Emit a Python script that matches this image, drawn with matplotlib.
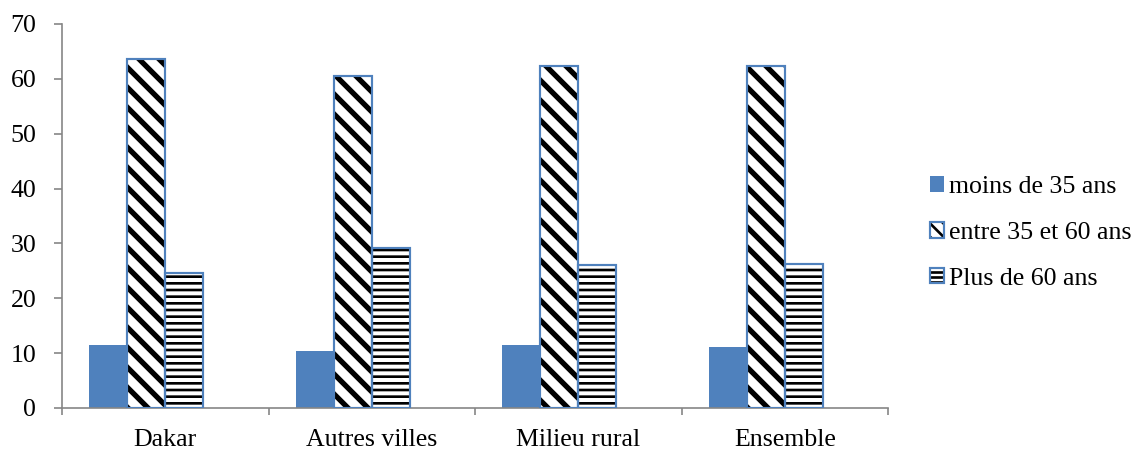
import matplotlib
matplotlib.use("Agg")
import matplotlib.pyplot as plt
import numpy as np
from matplotlib.patches import Patch
from matplotlib.legend_handler import HandlerTuple

categories = ["Dakar", "Autres villes", "Milieu rural", "Ensemble"]
series_names = ["moins de 35 ans", "entre 35 et 60 ans", "Plus de 60 ans"]
moins_35 = [11.5, 10.3, 11.5, 11.2]
entre_35_60 = [63.6, 60.6, 62.4, 62.4]
plus_60 = [24.7, 29.2, 26.1, 26.3]

BLUE = "#4F81BD"
AXIS = "#868686"
FS = 15.5

plt.rcParams["font.family"] = ["Liberation Serif", "DejaVu Serif"]

DPI = 120
fig = plt.figure(figsize=(1139 / DPI, 450 / DPI), dpi=DPI)
ax = fig.add_axes([62 / 1139, 1 - 408 / 450, (888 - 62) / 1139, (408 - 24) / 450])

x = np.arange(len(categories))
w = 0.184

# solid bars
ax.bar(x - 1.5 * w, moins_35, w, color=BLUE, edgecolor="none", zorder=2)

# hatched bars: hatch drawn in black, then a blue outline on top
plt.rcParams["hatch.linewidth"] = 3.2
ax.bar(x - 0.5 * w, entre_35_60, w, facecolor="white", edgecolor="black",
       linewidth=0, hatch="\\\\", zorder=2)
h2a = Patch(facecolor="white", edgecolor="black", linewidth=0, hatch="\\\\\\")
plt.rcParams["hatch.linewidth"] = 1.6
ax.bar(x + 0.5 * w, plus_60, w, facecolor="white", edgecolor="black",
       linewidth=0, hatch="---", zorder=2)
h3a = Patch(facecolor="white", edgecolor="black", linewidth=0, hatch="----")
for off, vals in [(-0.5 * w, entre_35_60), (0.5 * w, plus_60)]:
    ax.bar(x + off, vals, w, facecolor="none", edgecolor=BLUE, linewidth=1.3, zorder=3)

ax.set_ylim(0, 70)
ax.set_yticks(np.arange(0, 71, 10))
ax.set_xlim(-0.5, len(categories) - 0.5)
ax.set_xticks(np.arange(-0.5, len(categories)), labels=[""] * (len(categories) + 1))
ax.set_xticks(x, labels=categories, minor=True)

for s in ["top", "right"]:
    ax.spines[s].set_visible(False)
for s in ["left", "bottom"]:
    ax.spines[s].set_color(AXIS)
    ax.spines[s].set_linewidth(1.0)

ax.tick_params(axis="y", direction="out", length=5, width=1.0, color=AXIS,
               labelsize=FS, pad=10.5, labelcolor="black")
ax.tick_params(axis="x", which="major", direction="out", length=4, width=1.0, color=AXIS)
ax.tick_params(axis="x", which="minor", length=0, labelsize=FS, pad=12.5)

# legend proxies
h1 = Patch(facecolor=BLUE, edgecolor="none")
h2 = (h2a, Patch(facecolor="none", edgecolor=BLUE, linewidth=1.3))
h3 = (h3a, Patch(facecolor="none", edgecolor=BLUE, linewidth=1.3))
fig.legend([h1, h2, h3], series_names,
           handler_map={tuple: HandlerTuple(ndivide=1, pad=0)},
           loc="center left", bbox_to_anchor=(930 / 1139, 1 - 233 / 450),
           frameon=False, fontsize=FS, handlelength=0.55, handleheight=0.55,
           handletextpad=0.2, labelspacing=0.92, borderaxespad=0, borderpad=0)

fig.savefig("out.png", dpi=DPI, facecolor="white")
